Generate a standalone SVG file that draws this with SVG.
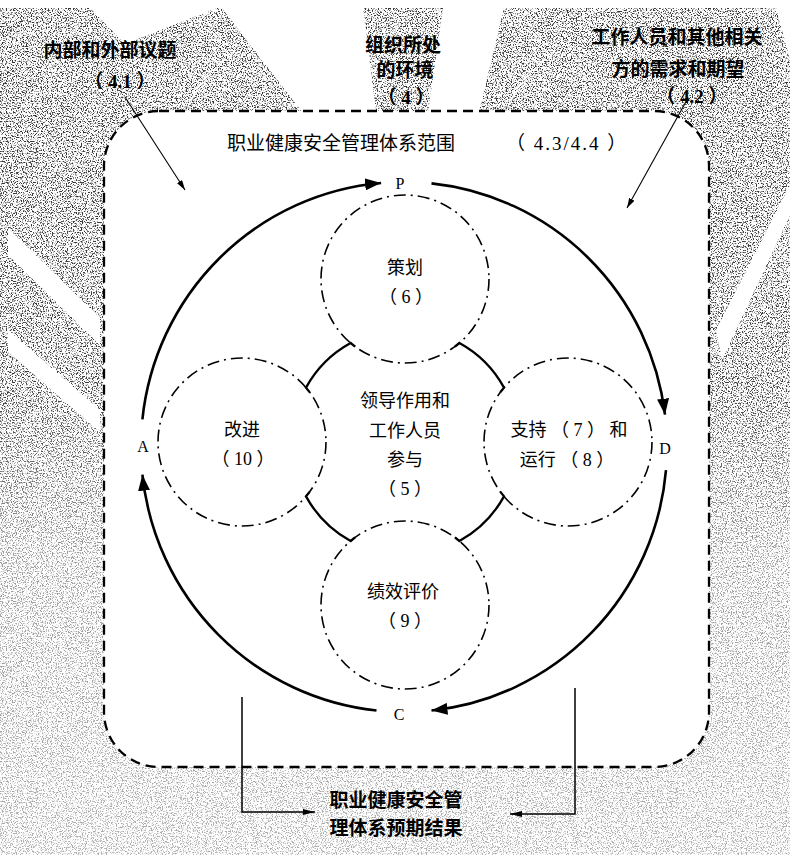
<svg xmlns="http://www.w3.org/2000/svg" width="790" height="855" viewBox="0 0 790 855">
<style>
.lbl { font-family: "Liberation Serif", "Noto Sans CJK SC", serif; font-size: 18px; text-anchor: middle; fill: #000; white-space: pre; }
.ttl { font-family: "Liberation Serif", "Noto Sans CJK SC", serif; font-size: 19px; fill: #000; white-space: pre; }
.bold { font-family: "Liberation Serif", "Noto Sans CJK SC", serif; font-size: 19px; font-weight: bold; text-anchor: middle; fill: #000; white-space: pre; }
.letter { font-family: "Liberation Serif", serif; font-size: 16px; text-anchor: middle; fill: #000; }
.dashdot { fill: none; stroke: #000; stroke-width: 1.6; stroke-dasharray: 12 5 2 5; }
.scope { fill: #fff; stroke: #000; stroke-width: 2.3; stroke-dasharray: 10 6; }
.core { fill: none; stroke: #000; stroke-width: 2.3; stroke-linejoin: miter; }
.cycle { fill: none; stroke: #000; stroke-width: 2.6; marker-end: url(#arrowBig); }
.thin { fill: none; stroke: #000; stroke-width: 1.1; marker-end: url(#arrowThin); }
.out { fill: none; stroke: #000; stroke-width: 1.5; marker-end: url(#arrowMid); }
</style>
<defs>
<filter id="speck" filterUnits="userSpaceOnUse" x="0" y="8" width="790" height="847" color-interpolation-filters="sRGB">
<feTurbulence type="fractalNoise" baseFrequency="0.8" numOctaves="2" seed="7" result="n"/>
<feColorMatrix in="n" type="matrix" values="0 0 0 0 0.2  0 0 0 0 0.2  0 0 0 0 0.2  6 0 0 0 -3.0"/>
</filter>
<linearGradient id="fade" x1="0" y1="0" x2="0" y2="1">
<stop offset="0" stop-color="#fff" stop-opacity="1"/>
<stop offset="0.45" stop-color="#fff" stop-opacity="0.95"/>
<stop offset="0.65" stop-color="#fff" stop-opacity="0.5"/>
<stop offset="1" stop-color="#fff" stop-opacity="0.4"/>
</linearGradient>
<mask id="fadeMask" maskUnits="userSpaceOnUse" x="0" y="0" width="790" height="855">
<rect width="790" height="855" fill="url(#fade)"/>
</mask>
<marker id="arrowBig" markerUnits="userSpaceOnUse" markerWidth="18" markerHeight="12" refX="16" refY="6" orient="auto">
<path d="M0,0 L16,6 L0,12 z" fill="#000"/>
</marker>
<marker id="arrowThin" markerUnits="userSpaceOnUse" markerWidth="11" markerHeight="6" refX="10" refY="3" orient="auto">
<path d="M0,0 L10,3 L0,6 z" fill="#000"/>
</marker>
<marker id="arrowMid" markerUnits="userSpaceOnUse" markerWidth="13" markerHeight="6" refX="12" refY="3" orient="auto">
<path d="M0,0 L12,3 L0,6 z" fill="#000"/>
</marker>
</defs>

<g id="background">
<rect width="790" height="855" fill="#fff"/>
<rect x="0" y="8" width="790" height="847" fill="#000" filter="url(#speck)" mask="url(#fadeMask)"/>
<path fill="#fff" d="M90 8 L217 8 L125 44 Z M222 8 L363 8 L376 112 L302 112 Z M443 8 L504 8 L479 112 L428 112 Z M8 228 L100 318 L100 345 L8 255 Z M8 330 L100 410 L100 432 L8 352 Z M790 185 L790 215 L722 360 L716 330 Z M776 8 L790 8 L790 60 Z"/>
</g>

<g id="scope">
<rect class="scope" x="104" y="111" width="605" height="656" rx="55" ry="55"/>
<text class="ttl" x="227" y="150">职业健康安全管理体系范围</text>
<text class="ttl" x="506" y="150" letter-spacing="2">（ 4.3/4.4 ）</text>
</g>

<g id="label-issues">
<text class="bold" x="110" y="57">内部和外部议题</text>
<text class="bold" x="120" y="88">（ 4.1 ）</text>
</g>
<g id="label-context">
<text class="bold" x="403" y="52">组织所处</text>
<text class="bold" x="405" y="77">的环境</text>
<text class="bold" x="406" y="104">（ 4 ）</text>
</g>
<g id="label-needs">
<text class="bold" x="677" y="44">工作人员和其他相关</text>
<text class="bold" x="678" y="76">方的需求和期望</text>
<text class="bold" x="692" y="103">（ 4.2 ）</text>
</g>

<g id="node-plan">
<circle class="dashdot" cx="405" cy="279" r="84"/>
<text class="lbl" x="405" y="274">策划</text>
<text class="lbl" x="406" y="303">（ 6 ）</text>
</g>
<g id="node-improve">
<circle class="dashdot" cx="242" cy="442" r="84"/>
<text class="lbl" x="242" y="436">改进</text>
<text class="lbl" x="243" y="465">（ 10 ）</text>
</g>
<g id="node-support">
<circle class="dashdot" cx="568" cy="442" r="84"/>
<text class="lbl" x="569" y="436">支持 （ 7 ） 和</text>
<text class="lbl" x="567" y="466">运行 （ 8 ）</text>
</g>
<g id="node-evaluation">
<circle class="dashdot" cx="405" cy="605" r="84"/>
<text class="lbl" x="403" y="598">绩效评价</text>
<text class="lbl" x="405" y="627">（ 9 ）</text>
</g>
<g id="node-leadership">
<path class="core" d="M355.1 346.6 L350.6 343 A113 113 0 0 0 306 387.6 L309.6 392.1"/>
<path class="core" d="M454.9 346.6 L459.4 343 A113 113 0 0 1 504 387.6 L500.4 392.1"/>
<path class="core" d="M500.4 491.9 L504 496.4 A113 113 0 0 1 459.4 541 L454.9 537.4"/>
<path class="core" d="M355.1 537.4 L350.6 541 A113 113 0 0 1 306 496.4 L309.6 491.9"/>
<text class="lbl" x="405" y="407">领导作用和</text>
<text class="lbl" x="405" y="437">工作人员</text>
<text class="lbl" x="405" y="466">参与</text>
<text class="lbl" x="405" y="495">（ 5 ）</text>
</g>

<g id="node-result">
<text class="bold" x="396" y="807">职业健康安全管</text>
<text class="bold" x="396" y="835">理体系预期结果</text>
</g>

<g id="connectors">
<path class="cycle" d="M142.4 419.3 A263 265 0 0 1 381.1 183"/>
<path class="cycle" d="M431.5 183.4 A263 265 0 0 1 665 414.7"/>
<path class="cycle" d="M666 470.1 A263 265 0 0 1 431.5 710.5"/>
<path class="cycle" d="M376.5 710.5 A263 265 0 0 1 142.4 474.7"/>
<path class="thin" d="M125 97 L185 190"/>
<path class="thin" d="M688 98 L627 208"/>
<path class="out" d="M242 697 L242 812 L315 812"/>
<path class="out" d="M575 688 L575 814 L510 814"/>
<text class="letter" x="400" y="189">P</text>
<text class="letter" x="665" y="454">D</text>
<text class="letter" x="399" y="720">C</text>
<text class="letter" x="143" y="452">A</text>
</g>
</svg>
